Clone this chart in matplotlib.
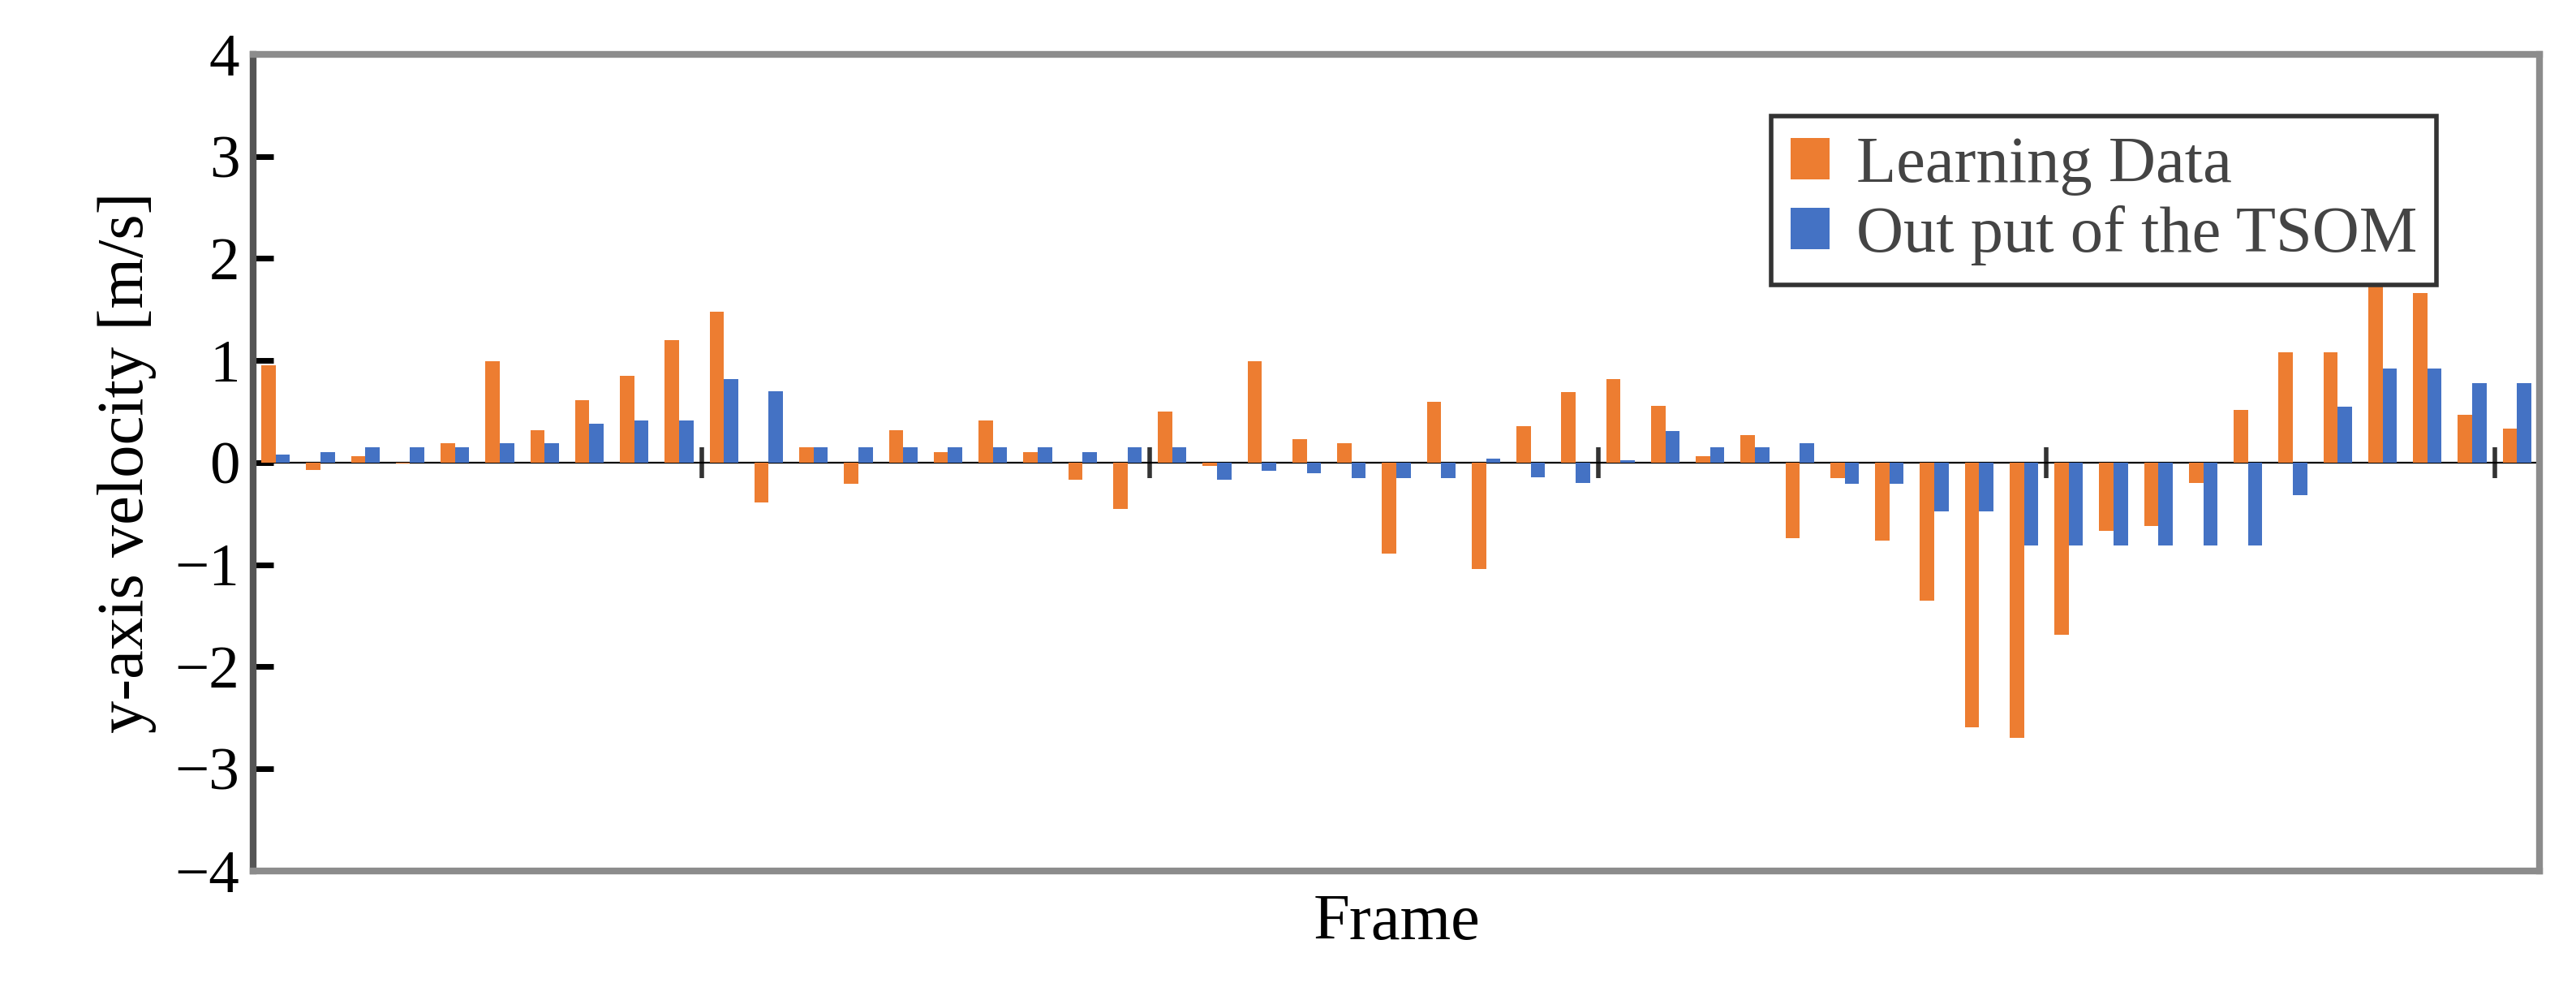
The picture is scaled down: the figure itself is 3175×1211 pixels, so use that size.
import numpy as np
import matplotlib
matplotlib.use("Agg")
import matplotlib.pyplot as plt

plt.rcParams['font.family'] = ['Liberation Serif', 'DejaVu Serif']

# frame numbers 1..51
frames = np.arange(1, 52)

learning = [0.95, -0.07, 0.06, -0.01, 0.19, 0.99, 0.32, 0.61, 0.85, 1.20,
            1.48, -0.39, 0.15, -0.21, 0.32, 0.10, 0.41, 0.10, -0.17, -0.45,
            0.50, -0.03, 0.99, 0.23, 0.19, -0.89, 0.60, -1.04, 0.36, 0.69,
            0.82, 0.56, 0.06, 0.27, -0.74, -0.15, -0.76, -1.35, -2.59, -2.70,
            -1.69, -0.67, -0.62, -0.20, 0.52, 1.08, 1.08, 1.85, 1.66, 0.47,
            0.33]
tsom = [0.08, 0.10, 0.15, 0.15, 0.15, 0.19, 0.19, 0.38, 0.41, 0.41,
        0.82, 0.70, 0.15, 0.15, 0.15, 0.15, 0.15, 0.15, 0.10, 0.15,
        0.15, -0.17, -0.08, -0.10, -0.15, -0.15, -0.15, 0.04, -0.14, -0.20,
        0.02, 0.31, 0.15, 0.15, 0.19, -0.21, -0.21, -0.48, -0.48, -0.81,
        -0.81, -0.81, -0.81, -0.81, -0.81, -0.32, 0.55, 0.92, 0.92, 0.78,
        0.78]

orange = '#ED7D31'
blue = '#4472C4'
w = 0.32

fig = plt.figure(figsize=(15.875, 6.055), dpi=200)
ax = fig.add_axes([0.0983, 0.114, 0.8875, 0.8307])

ax.bar(frames - w / 2, learning, width=w, color=orange, label='Learning Data', zorder=2)
ax.bar(frames + w / 2, tsom, width=w, color=blue, label='Out put of the TSOM', zorder=2)

ax.set_xlim(0.5, 51.5)
ax.set_ylim(-4, 4)
ax.set_yticks(range(-4, 5))
ax.set_yticklabels(['\u22124', '\u22123', '\u22122', '\u22121', '0', '1', '2', '3', '4'])
ax.tick_params(axis='y', direction='in', length=9, width=2.5, labelsize=27, pad=6)
ax.set_xticks([])

for s in ax.spines.values():
    s.set_color('#8c8c8c')
    s.set_linewidth(3)
ax.spines['left'].set_color('#555555')

# zero axis with cross ticks every 10 frames
sec = ax.secondary_xaxis(0.5)
sec.set_xticks([10.5, 20.5, 30.5, 40.5, 50.5])
sec.set_xticklabels([])
sec.tick_params(direction='inout', length=14, width=2, color='#333333')
sec.spines['bottom'].set_color('#333333')
sec.spines['bottom'].set_linewidth(1.5)

ax.set_ylabel('y-axis velocity [m/s]', fontsize=29, labelpad=8)
ax.set_xlabel('Frame', fontsize=29, labelpad=10)

leg = ax.legend(loc='upper right', bbox_to_anchor=(0.955, 0.924), fontsize=29,
                frameon=True, fancybox=False, framealpha=1, edgecolor='#333333',
                handlelength=0.6, handleheight=0.6, handletextpad=0.4,
                borderpad=0.3, labelspacing=0.15, borderaxespad=0)
leg.get_frame().set_linewidth(2)
leg.set_zorder(5)
for t in leg.get_texts():
    t.set_color('#444444')

fig.savefig('out.png', dpi=200)
